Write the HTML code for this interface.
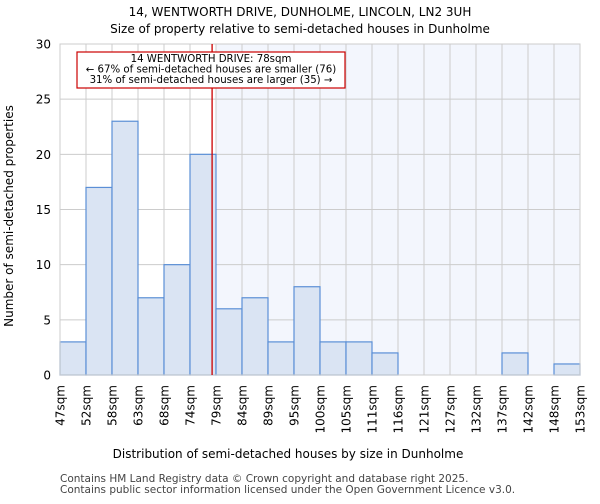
<!DOCTYPE html>
<html><head><meta charset="utf-8"><style>
body{margin:0;background:#fff;font-family:"DejaVu Sans","Liberation Sans",sans-serif}
svg text{font-family:"DejaVu Sans","Liberation Sans",sans-serif}
</style></head><body>
<svg id="chart" width="600" height="500" xmlns="http://www.w3.org/2000/svg">
<text x="300" y="16" text-anchor="middle" font-size="12">14, WENTWORTH DRIVE, DUNHOLME, LINCOLN, LN2 3UH</text>
<text x="300" y="33" text-anchor="middle" font-size="12">Size of property relative to semi-detached houses in Dunholme</text>
<g id="plot"></g>
<text x="288" y="458" text-anchor="middle" font-size="12">Distribution of semi-detached houses by size in Dunholme</text>
<text transform="translate(13,216) rotate(-90)" text-anchor="middle" font-size="12">Number of semi-detached properties</text>
<text x="60" y="482" font-size="10.5" fill="#444">Contains HM Land Registry data © Crown copyright and database right 2025.</text>
<text x="60" y="493" font-size="10.5" fill="#444">Contains public sector information licensed under the Open Government Licence v3.0.</text>
</svg>
<script>
const binLabels=["47sqm","52sqm","58sqm","63sqm","68sqm","74sqm","79sqm","84sqm","89sqm","95sqm","100sqm","105sqm","111sqm","116sqm","121sqm","127sqm","132sqm","137sqm","142sqm","148sqm","153sqm"];
const counts=[3,17,23,7,10,20,6,7,3,8,3,3,2,0,0,0,0,2,0,1];
const yTicks=[0,5,10,15,20,25,30];
const propertyBinPos=5.85;
const NS="http://www.w3.org/2000/svg";
const L=60,R=580,T=44,B=375,yMax=30;
const bw=(R-L)/counts.length;
const xs=i=>L+i*bw;
const ys=v=>B-(v/yMax)*(B-T);
const g=document.getElementById('plot');
function mk(t,a){const e=document.createElementNS(NS,t);for(const k in a)e.setAttribute(k,a[k]);g.appendChild(e);return e;}
let e=mk('rect',{x:xs(Math.ceil(propertyBinPos)),y:T,width:R-xs(Math.ceil(propertyBinPos)),height:B-T,fill:'#f3f6fd'});


yTicks.forEach(v=>{
 const l=mk('line',{x1:L,x2:R,y1:ys(v),y2:ys(v),stroke:'#cccccc'});
 
 
 const t=mk('text',{x:L-9,y:ys(v)+4.5,'text-anchor':'end','font-size':12});
 t.textContent=v;
 
 
});
binLabels.forEach((s,i)=>{
 const l=mk('line',{x1:xs(i),x2:xs(i),y1:T,y2:B,stroke:'#cccccc'});
 
 
 const t=mk('text',{transform:`translate(${xs(i)+4.5},${B+10}) rotate(-90)`,'text-anchor':'end','font-size':12});
 t.textContent=s;
 
 
});
counts.forEach((c,i)=>{
 if(c<=0)return;
 const r=mk('rect',{x:xs(i),y:ys(c),width:bw,height:B-ys(c),fill:'#dae4f3',stroke:'#5b8fd6','stroke-width':1.2});
 
 
});
const ax=mk('rect',{x:L,y:T,width:R-L,height:B-T,fill:'none',stroke:'#cccccc'});


const px=xs(propertyBinPos);
const pl=mk('line',{x1:px,x2:px,y1:T,y2:B,stroke:'#cc0000','stroke-width':1.3});


const box=mk('rect',{x:77,y:52,width:268,height:36,fill:'#fff',stroke:'#cc0000','stroke-width':1.2});


["14 WENTWORTH DRIVE: 78sqm","← 67% of semi-detached houses are smaller (76)","31% of semi-detached houses are larger (35) →"].forEach((s,i)=>{
 const t=mk('text',{x:211,y:62+i*10.5,'text-anchor':'middle','font-size':10.2});
 t.textContent=s;
 
 
});
</script>
</body></html>
